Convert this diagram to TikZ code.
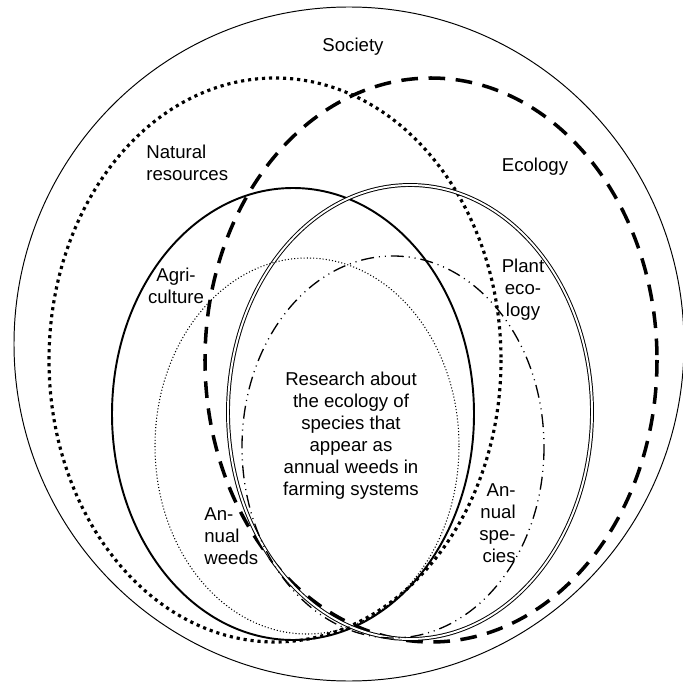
\documentclass[tikz,border=0pt]{standalone}
\usepackage{fontspec}
\setmainfont{Liberation Sans}

\begin{document}
\begin{tikzpicture}[x=0.02cm,y=-0.02cm,
   lbl/.style={inner sep=0pt,font=\fontsize{10.6}{12.5}\selectfont}]
   \useasboundingbox (0,0) rectangle (683,682);
   % the sets
   \draw[line width=0.55pt] (349,344) ellipse [x radius=335, y radius=337];
   \draw[line width=1.8pt,dash pattern=on 1.8pt off 2.2pt] (275,360) ellipse [x radius=226, y radius=282];
   \draw[line width=2pt,dash pattern=on 9.5pt off 6pt] (431,360) ellipse [x radius=226, y radius=282];
   \draw[line width=1.1pt] (293,414) ellipse [x radius=181, y radius=226];
   \draw[line width=0.55pt,double,double distance=1.1pt] (410,412) ellipse [x radius=182, y radius=227];
   \draw[line width=0.6pt,dash pattern=on 0.6pt off 1.2pt] (307,446) ellipse [x radius=152, y radius=188];
   \draw[line width=0.75pt,dash pattern=on 7.4pt off 2.8pt on 0.6pt off 2.8pt on 0.6pt off 2.8pt] (393,447) ellipse [x radius=151, y radius=191];
   % labels
   \node (society) at (353,47) [lbl] {Society};
   \node (natres) at (146,163) [lbl,anchor=west,align=left] {Natural\\resources};
   \node (ecology) at (535,167) [lbl] {Ecology};
   \node (agri) at (176,286) [lbl,align=center] {Agri-\\culture};
   \node (plantecol) at (523,290) [lbl,align=center] {Plant\\eco-\\logy};
   \node (research) at (351,436) [lbl,align=center] {Research about\\the ecology of\\species that\\appear as\\annual weeds in\\farming systems};
   \node (annweeds) at (204,536) [lbl,anchor=west,align=left] {An-\\nual\\weeds};
   \node (annspec) at (516,523) [lbl,anchor=east,align=right] {An-\\nual\\spe-\\cies};
\end{tikzpicture}
\end{document}
